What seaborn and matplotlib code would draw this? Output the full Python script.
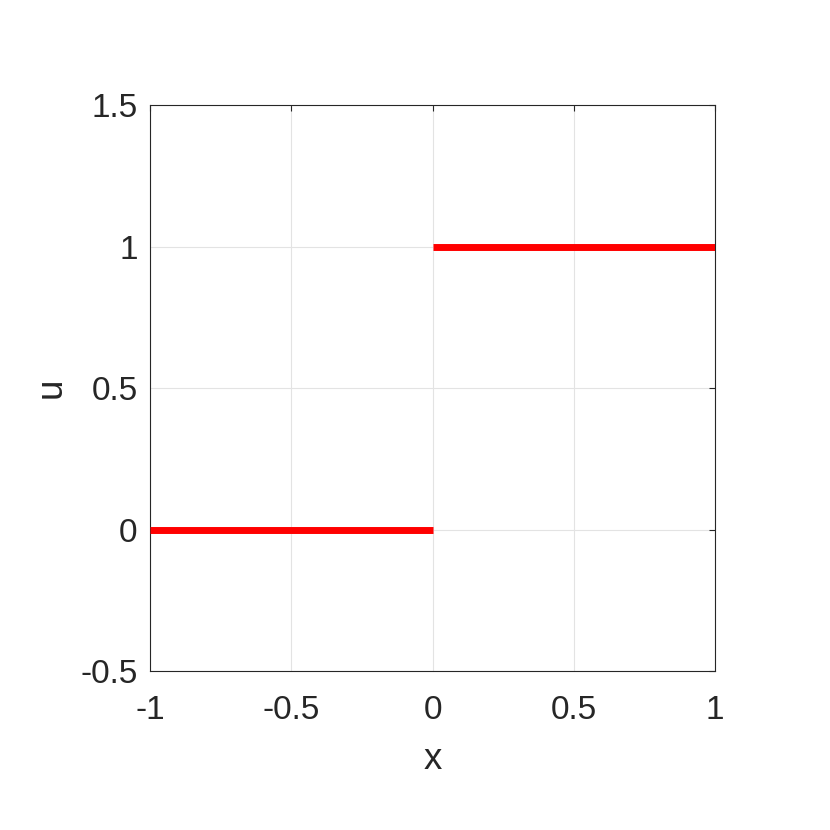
import numpy as np
import pandas as pd
import seaborn as sns
import matplotlib.pyplot as plt

# piecewise step: u = 0 for x < 0, u = 1 for x > 0
left_x = [-1.0, 0.0]
left_u = [0.0, 0.0]
right_x = [0.0, 1.0]
right_u = [1.0, 1.0]

x_ticks = [-1, -0.5, 0, 0.5, 1]
x_tick_labels = ["-1", "-0.5", "0", "0.5", "1"]
u_ticks = [-0.5, 0, 0.5, 1, 1.5]
u_tick_labels = ["-0.5", "0", "0.5", "1", "1.5"]

sns.set_style("white")
plt.rcParams["font.family"] = ["Liberation Sans", "DejaVu Sans"]

fig = plt.figure(figsize=(8.3, 8.3), dpi=100)
ax = fig.add_axes([150 / 830, 1 - 671 / 830, 565 / 830, 566 / 830])

left = pd.DataFrame({"x": left_x, "u": left_u})
right = pd.DataFrame({"x": right_x, "u": right_u})
sns.lineplot(data=left, x="x", y="u", ax=ax, color="red", linewidth=5,
             solid_capstyle="butt", zorder=3)
sns.lineplot(data=right, x="x", y="u", ax=ax, color="red", linewidth=5,
             solid_capstyle="butt", zorder=3)

ax.set_xlim(-1, 1)
ax.set_ylim(-0.5, 1.5)
ax.set_xticks(x_ticks)
ax.set_xticklabels(x_tick_labels)
ax.set_yticks(u_ticks)
ax.set_yticklabels(u_tick_labels)
ax.grid(True, color="#e3e3e3", linewidth=0.8)
ax.set_axisbelow(True)

for s in ax.spines.values():
    s.set_color("#262626")
    s.set_linewidth(0.8)
ax.tick_params(direction="in", length=4.5, width=0.8, colors="#262626",
               labelsize=24, top=True, right=True)
ax.tick_params(axis="x", pad=17)
ax.tick_params(axis="y", pad=9)
ax.set_xlabel("x", fontsize=26.4, color="#262626", labelpad=12)
ax.set_ylabel("u", fontsize=26.4, color="#262626", labelpad=8)

fig.savefig("out.png", dpi=100)
